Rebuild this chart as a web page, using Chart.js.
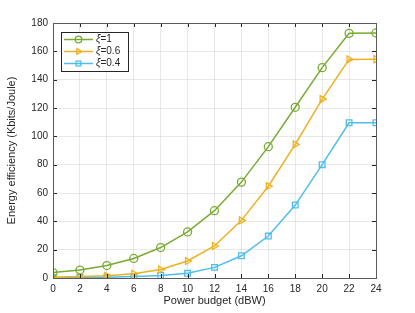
<!DOCTYPE html>
<html lang="en">
<head>
    <meta charset="UTF-8">
    <title>Energy efficiency vs power budget</title>
    <script src="https://cdn.jsdelivr.net/npm/chart.js"></script>
    <style>
        html, body { margin: 0; padding: 0; background: #ffffff; }
        #wrap { width: 415px; height: 313px; }
    </style>
</head>
<body>
    <div id="wrap"><canvas id="chart" width="415" height="313"></canvas></div>
    <script>
        // Data
        const powerBudget = [0, 2, 4, 6, 8, 10, 12, 14, 16, 18, 20, 22, 24];
        const xi1 = [3.8, 5.6, 8.8, 13.8, 21.5, 32.5, 47.5, 67.7, 92.7, 120.5, 148.5, 172.7, 173];
        const xi06 = [0.5, 1.0, 1.6, 3.0, 6.0, 12.0, 22.6, 40.7, 64.8, 94.3, 126.3, 154.3, 154.5];
        const xi04 = [0.3, 0.4, 0.6, 1.0, 1.8, 3.3, 7.5, 15.7, 29.6, 51.5, 80.0, 109.6, 109.6];
        const seriesLabels = ['\u03BE=1', '\u03BE=0.6', '\u03BE=0.4'];
        const xTicks = [0, 2, 4, 6, 8, 10, 12, 14, 16, 18, 20, 22, 24];
        const yTicks = [0, 20, 40, 60, 80, 100, 120, 140, 160, 180];

        const axisColor = '#262626';
        const fontFamily = '"Liberation Sans", Arial, Helvetica, sans-serif';

        function series(label, values, color, pointStyle, rotation) {
            return {
                label: label,
                data: powerBudget.map((x, i) => ({ x: x, y: values[i] })),
                borderColor: color,
                borderWidth: 1.5,
                pointStyle: pointStyle,
                rotation: rotation,
                pointRadius: 4,
                pointBorderWidth: 1.3,
                pointBorderColor: color,
                pointBackgroundColor: 'rgba(0,0,0,0)',
                tension: 0
            };
        }

        // Box around the plot with inward ticks on all four sides (MATLAB style)
        const boxPlugin = {
            id: 'boxPlugin',
            afterDatasetsDraw(chart) {
                const { ctx, chartArea: a, scales } = chart;
                ctx.save();
                ctx.strokeStyle = axisColor;
                ctx.lineWidth = 1;
                ctx.beginPath();
                xTicks.forEach(v => {
                    const px = Math.round(scales.x.getPixelForValue(v)) + 0.5;
                    ctx.moveTo(px, a.bottom); ctx.lineTo(px, a.bottom - 4);
                    ctx.moveTo(px, a.top); ctx.lineTo(px, a.top + 4);
                });
                yTicks.forEach(v => {
                    const py = Math.round(scales.y.getPixelForValue(v)) + 0.5;
                    ctx.moveTo(a.left, py); ctx.lineTo(a.left + 4, py);
                    ctx.moveTo(a.right, py); ctx.lineTo(a.right - 4, py);
                });
                ctx.stroke();
                ctx.strokeStyle = '#5a5a5a';
                ctx.strokeRect(Math.round(a.left) + 0.5, Math.round(a.top) + 0.5,
                    Math.round(a.right - a.left), Math.round(a.bottom - a.top));
                ctx.restore();
            }
        };

        // Legend box inside the axes, top-left, line + marker per entry
        const legendPlugin = {
            id: 'legendPlugin',
            afterDraw(chart) {
                const { ctx, chartArea: a } = chart;
                const x0 = a.left + 8, y0 = a.top + 9, w = 67, h = 39;
                ctx.save();
                ctx.fillStyle = '#ffffff';
                ctx.fillRect(x0, y0, w, h);
                ctx.strokeStyle = axisColor;
                ctx.lineWidth = 1;
                ctx.strokeRect(x0 + 0.5, y0 + 0.5, w, h);
                chart.data.datasets.forEach((ds, i) => {
                    const y = y0 + 7.5 + i * 12;
                    ctx.strokeStyle = ds.borderColor;
                    ctx.lineWidth = 1.5;
                    ctx.beginPath();
                    ctx.moveTo(x0 + 3, y); ctx.lineTo(x0 + 32, y);
                    ctx.stroke();
                    ctx.fillStyle = 'rgba(0,0,0,0)';
                    ctx.lineWidth = ds.pointBorderWidth;
                    Chart.helpers.drawPoint(ctx, {
                        pointStyle: ds.pointStyle,
                        rotation: ds.rotation,
                        radius: 3.3,
                        borderWidth: ds.pointBorderWidth
                    }, x0 + 17.5, y);
                    ctx.fillStyle = axisColor;
                    ctx.textBaseline = 'middle';
                    ctx.textAlign = 'left';
                    const sym = ds.label.charAt(0);
                    ctx.font = 'italic 10px ' + fontFamily;
                    ctx.fillText(sym, x0 + 35, y);
                    const sw = ctx.measureText(sym).width;
                    ctx.font = '10px ' + fontFamily;
                    ctx.fillText(ds.label.slice(1), x0 + 35 + sw, y);
                });
                ctx.restore();
            }
        };

        new Chart(document.getElementById('chart').getContext('2d'), {
            type: 'line',
            data: {
                datasets: [
                    series(seriesLabels[0], xi1, '#77AC30', 'circle', 0),
                    series(seriesLabels[1], xi06, '#EDB120', 'triangle', 90),
                    series(seriesLabels[2], xi04, '#4DBEEE', 'rect', 0)
                ]
            },
            options: {
                responsive: false,
                animation: false,
                devicePixelRatio: 1,
                layout: { padding: { top: 23, right: 39, left: 0, bottom: 0 } },
                plugins: {
                    legend: { display: false },
                    tooltip: { enabled: false }
                },
                scales: {
                    x: {
                        type: 'linear',
                        min: 0,
                        max: 24,
                        afterBuildTicks(scale) { scale.ticks = xTicks.map(v => ({ value: v })); },
                        afterFit(scale) { scale.height = 35; },
                        grid: { color: 'rgba(0,0,0,0.09)', drawTicks: false },
                        border: { display: false },
                        ticks: {
                            color: axisColor,
                            padding: 5,
                            maxRotation: 0,
                            font: { family: fontFamily, size: 10 }
                        },
                        title: {
                            display: true,
                            text: 'Power budget (dBW)',
                            color: axisColor,
                            padding: { top: 1, bottom: 5 },
                            font: { family: fontFamily, size: 11 }
                        }
                    },
                    y: {
                        type: 'linear',
                        min: 0,
                        max: 180,
                        afterBuildTicks(scale) { scale.ticks = yTicks.map(v => ({ value: v })); },
                        afterFit(scale) { scale.width = 53; },
                        grid: { color: 'rgba(0,0,0,0.09)', drawTicks: false },
                        border: { display: false },
                        ticks: {
                            color: axisColor,
                            padding: 5,
                            font: { family: fontFamily, size: 10 }
                        },
                        title: {
                            display: true,
                            text: 'Energy efficiency (Kbits/Joule)',
                            color: axisColor,
                            padding: { top: 5, bottom: 0 },
                            font: { family: fontFamily, size: 11 }
                        }
                    }
                }
            },
            plugins: [boxPlugin, legendPlugin]
        });
    </script>
</body>
</html>
